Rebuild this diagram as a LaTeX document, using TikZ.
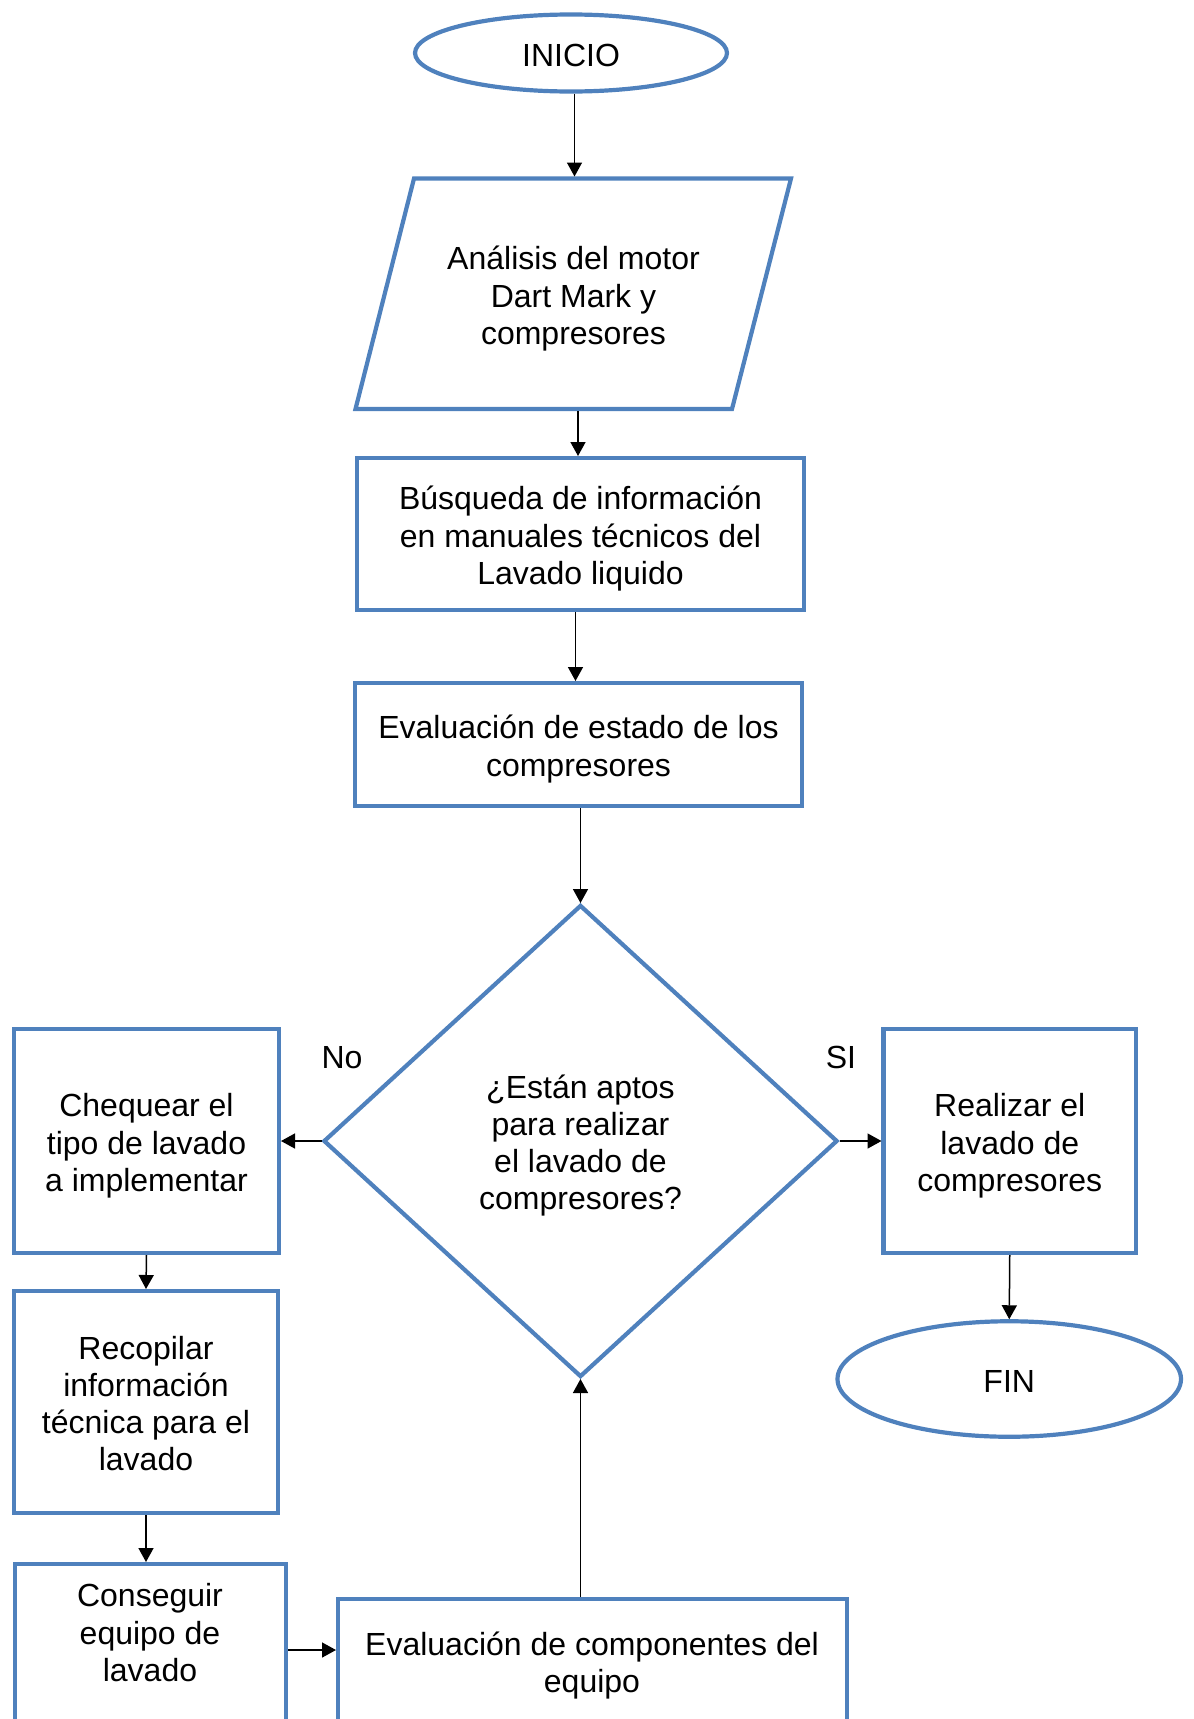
\documentclass[tikz,border=0pt]{standalone}
\usepackage{fontspec}
\setmainfont{Liberation Sans}
\usetikzlibrary{shapes.geometric,arrows.meta}
\definecolor{flowblue}{RGB}{79,129,189}
\newcommand\fsth{\rule{0pt}{34pt}}
\newcommand\fstd{\rule[-8pt]{0pt}{8pt}}
\begin{document}
\begin{tikzpicture}[x=1pt,y=-1pt,
  every node/.style={font=\fontsize{32}{37.3}\selectfont, align=center, inner sep=0pt, outer sep=0pt},
  box/.style={draw=flowblue, line width=4.2pt, rectangle, outer sep=2pt},
  term/.style={draw=flowblue, line width=4.2pt, ellipse, outer sep=2pt},
  decision/.style={draw=flowblue, line width=4.2pt, diamond, outer sep=2pt},
  arr/.style={line width=1.5pt, -{Triangle[length=14pt,width=15pt]}},
]
\useasboundingbox (0,0) rectangle (1194,1719);

\node[term, minimum width=312pt, minimum height=77pt] (inicio) at (571,53) {\fsth INICIO\fstd};

\draw[draw=flowblue, line width=4.2pt, line join=miter] (414,178.5) -- (791,178.5) -- (732,409) -- (355.5,409) -- cycle;
\node (analisis) at (573.5,294) {\fsth Análisis del motor\\Dart Mark y\\compresores\fstd};
\coordinate (anatop) at (574.5,176.5);
\coordinate (anabot) at (578,411);

\node[box, minimum width=447pt, minimum height=152pt] (busq) at (580.5,534) {\fsth Búsqueda de información\\en manuales técnicos del\\Lavado liquido\fstd};
\node[box, minimum width=447pt, minimum height=123pt] (estado) at (578.5,744.5) {\fsth Evaluación de estado de los\\compresores\fstd};

\node[decision, minimum width=514pt, minimum height=472pt] (diam) at (580.5,1141) {\fsth ¿Están aptos\\para realizar\\el lavado de\\compresores?\fstd};

\node[box, minimum width=265pt, minimum height=224pt] (cheq) at (146.5,1141) {\fsth Chequear el\\tipo de lavado\\a implementar\fstd};
\node[box, minimum width=264pt, minimum height=222pt] (recop) at (146,1402) {\fsth Recopilar\\información\\técnica para el\\lavado\fstd};
\node[box, minimum width=271pt, minimum height=236pt] (consg) at (150.5,1682) {};
\node (consgtxt) at (150,1631) {\fsth Conseguir\\equipo de\\lavado\fstd};
\node[box, minimum width=509pt, minimum height=236pt] (evalc) at (592.5,1717) {};
\node (evalctxt) at (592,1661) {\fsth Evaluación de componentes del\\equipo\fstd};

\node[box, minimum width=252.5pt, minimum height=224pt] (real) at (1009.75,1141) {\fsth Realizar el\\lavado de\\compresores\fstd};
\node[term, minimum width=343.5pt, minimum height=115.5pt] (fin) at (1009.25,1379) {\fsth FIN\fstd};

\node (no) at (342,1055) {\fsth No\fstd};
\node (si) at (841,1055) {\fsth SI\fstd};

\coordinate (link) at (0,1650);

\draw[arr] (inicio.south -| anatop) -- (anatop);
\draw[arr] (anabot) -- (anabot |- busq.north);
\draw[arr] ([xshift=-5pt]busq.south) -- ([xshift=-5pt]busq.south |- estado.north);
\draw[arr] (estado.south -| diam.north) -- (diam.north);
\draw[arr] (diam.west) -- (cheq.east);
\draw[arr] (diam.east) -- (real.west);
\draw[arr] (real.south) -- (fin.north);
\draw[arr] (cheq.south) -- (recop.north);
\draw[arr] (recop.south) -- (recop.south |- consg.north);
\draw[arr] (consg.east |- link) -- (evalc.west |- link);
\draw[arr] (evalc.north -| diam.south) -- (diam.south);
\end{tikzpicture}
\end{document}
